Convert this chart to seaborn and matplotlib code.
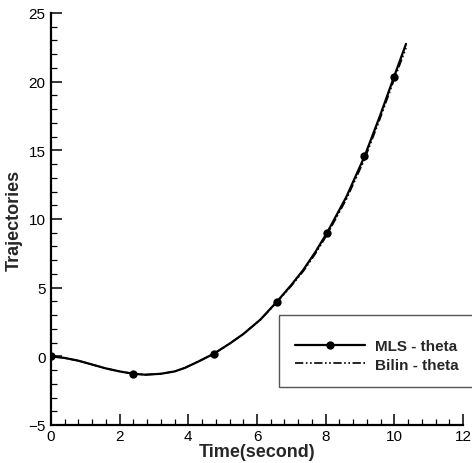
import matplotlib
matplotlib.use("Agg")
import matplotlib.pyplot as plt
import seaborn as sns
from matplotlib.patches import Rectangle
from matplotlib.ticker import MultipleLocator

# curve samples
time_s = [0, 0.4, 0.8, 1.2, 1.6, 2.0, 2.4, 2.75, 3.2, 3.6, 3.9, 4.3, 4.75, 5.2,
          5.6, 6.1, 6.58, 7.0, 7.35, 7.7, 8.04, 8.6, 9.13, 9.58, 9.99, 10.34]
mls_theta = [0, -0.12, -0.32, -0.6, -0.88, -1.1, -1.27, -1.34, -1.27, -1.1, -0.84,
             -0.37, 0.2, 0.92, 1.62, 2.68, 3.98, 5.2, 6.3, 7.6, 9.0, 11.6, 14.55,
             17.5, 20.35, 22.75]
bilin_theta = [0, -0.12, -0.32, -0.6, -0.88, -1.1, -1.27, -1.34, -1.27, -1.1, -0.84,
               -0.37, 0.2, 0.92, 1.62, 2.66, 3.94, 5.13, 6.2, 7.47, 8.85, 11.42,
               14.33, 17.28, 20.12, 22.45]
# sample indices that carry a marker on the MLS curve
mls_marker_idx = [0, 6, 12, 16, 20, 22, 24]

sns.set_style("ticks")
plt.rcParams["font.family"] = ["Liberation Sans", "DejaVu Sans"]

fig = plt.figure(figsize=(4.72, 4.64), dpi=100)
ax = fig.add_axes([0.108, 0.0819, 0.873, 0.888])

sns.lineplot(x=time_s, y=bilin_theta, ax=ax, sort=False, estimator=None,
             color="black", linewidth=1.2,
             linestyle=(0, (5, 1.5, 1, 1.5, 1, 1.5)), label="Bilin - theta")
sns.lineplot(x=time_s, y=mls_theta, ax=ax, sort=False, estimator=None,
             color="black", linewidth=1.6, marker="o", markersize=6,
             markevery=mls_marker_idx, markeredgewidth=0, label="MLS - theta")

ax.set_xlim(0, 12)
ax.set_ylim(-5, 25)
ax.xaxis.set_major_locator(MultipleLocator(2))
ax.xaxis.set_minor_locator(MultipleLocator(0.4))
ax.yaxis.set_major_locator(MultipleLocator(5))
ax.yaxis.set_minor_locator(MultipleLocator(1))
ax.tick_params(which="both", direction="in", colors="black", labelsize=11)
ax.tick_params(which="major", length=8, width=1.1)
ax.tick_params(which="minor", length=4.5, width=0.9)
ax.tick_params(axis="x", pad=3)
ax.tick_params(axis="y", pad=4)
for side in ["top", "right"]:
    ax.spines[side].set_visible(False)
for side in ["left", "bottom"]:
    ax.spines[side].set_linewidth(1.6)
    ax.spines[side].set_color("black")

ax.set_xlabel("Time(second)", fontsize=13, fontweight="bold", labelpad=0)
ax.set_ylabel("Trajectories", fontsize=13, fontweight="bold", labelpad=4)

# legend box (runs past the right edge like the original)
fig.patches.append(Rectangle((279 / 472, 1 - 388 / 464), 0.5, 72 / 464,
                             transform=fig.transFigure, fill=False,
                             edgecolor="#555555", linewidth=1.0))
lines = ax.get_lines()
handles = [lines[1], lines[0]]
leg = ax.legend(handles=handles, labels=["MLS - theta", "Bilin - theta"],
                loc="center left", bbox_to_anchor=(295 / 472, 1 - 356.5 / 464),
                bbox_transform=fig.transFigure, frameon=False, borderpad=0,
                borderaxespad=0, handlelength=4.6, handletextpad=0.65,
                labelspacing=0.3, numpoints=1, markerscale=1.0,
                prop={"weight": "bold", "size": 11})

fig.savefig("out.png", dpi=100)
